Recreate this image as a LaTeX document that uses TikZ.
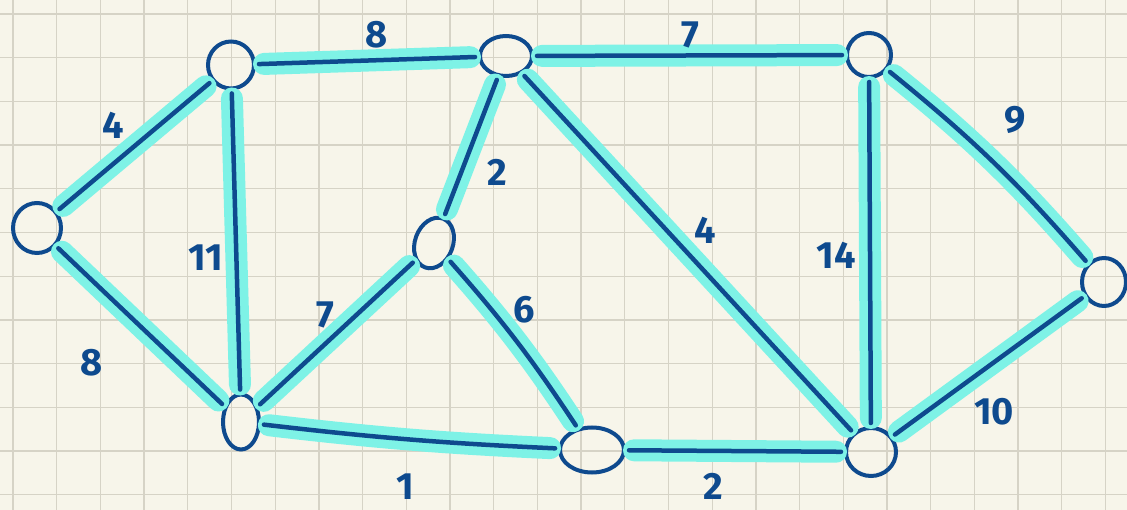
\documentclass[tikz,border=0pt]{standalone}
\usepackage{fontspec}
\setmainfont{Fira Sans}
\usetikzlibrary{shapes.geometric}
\definecolor{bgc}{HTML}{F7F5EA}
\definecolor{gridc}{HTML}{D6D3C6}
\definecolor{ink}{HTML}{0E4A8E}
\definecolor{hl}{HTML}{7EF2E6}
\tikzset{
  vtx/.style={ellipse, draw=ink, line width=4pt, inner sep=0pt},
  hledge/.style={draw=hl, line width=22pt, line cap=round, shorten <=8pt, shorten >=8pt},
  inkedge/.style={draw=ink, line width=4.5pt, line cap=round, shorten <=3pt, shorten >=3pt},
  wlabel/.style={text=ink, font=\fontsize{38}{38}\selectfont\bfseries, inner sep=0pt}
}
\begin{document}
\begin{tikzpicture}[x=1pt,y=-1pt]
\useasboundingbox (0,0) rectangle (1127,510);
\fill[bgc] (0,0) rectangle (1127,510);
\begin{scope}
\clip (0,0) rectangle (1127,510);
\foreach \i in {0,...,25} \draw[gridc,line width=1.3pt] ({13+43.7*\i},0) -- ({13+43.7*\i},510);
\foreach \j in {0,...,11} \draw[gridc,line width=1.3pt] (0,{14+43.7*\j}) -- (1127,{14+43.7*\j});
\end{scope}
% vertices
\node[vtx, minimum width=48pt, minimum height=50pt] (A) at (37,228) {};
\node[vtx, minimum width=46pt, minimum height=47pt] (B) at (231,65) {};
\node[vtx, minimum width=36pt, minimum height=55pt] (C) at (241,422) {};
\node[vtx, minimum width=52pt, minimum height=40pt] (D) at (506,56) {};
\node[vtx, minimum width=38pt, minimum height=52pt, rotate=-20] (E) at (434,243) {};
\node[vtx, minimum width=64pt, minimum height=45pt] (F) at (592,450) {};
\node[vtx, minimum width=44pt, minimum height=44pt] (G) at (869,55) {};
\node[vtx, minimum width=50pt, minimum height=48pt] (H) at (871,452) {};
\node[vtx, minimum width=44pt, minimum height=48pt] (I) at (1104,282) {};
% highlights
\foreach \a/\b in {A/B,A/C,B/D,B/C,C/E,D/E,D/G,D/H,G/H,H/I,F/H}
  \path[hledge] (\a) -- (\b);
\path[hledge] (C) to[bend right=2] (F);
\path[hledge] (E) to[bend left=4] (F);
\path[hledge] (G) to[bend left=5] (I);
% ink edges
\foreach \a/\b in {A/B,A/C,B/D,B/C,C/E,D/E,D/G,D/H,G/H,H/I,F/H}
  \path[inkedge] (\a) -- (\b);
\path[inkedge] (C) to[bend right=2] (F);
\path[inkedge] (E) to[bend left=4] (F);
\path[inkedge] (G) to[bend left=5] (I);
% labels
\node[wlabel] (lAB) at (113,125) {4};
\node[wlabel] (lBD) at (377,35) {8};
\node[wlabel] (lDG) at (690,35) {7};
\node[wlabel] (lGI) at (1015,120) {9};
\node[wlabel] (lDE) at (497,172) {2};
\node[wlabel] (lBC) at (206,258) {11};
\node[wlabel] (lAC) at (92,363) {8};
\node[wlabel] (lCE) at (325,315) {7};
\node[wlabel] (lEF) at (524,310) {6};
\node[wlabel] (lDH) at (705,230) {4};
\node[wlabel] (lGH) at (836,255) {14};
\node[wlabel] (lHI) at (994,412) {10};
\node[wlabel] (lCF) at (405,487) {1};
\node[wlabel] (lFH) at (713,486) {2};
\end{tikzpicture}
\end{document}
